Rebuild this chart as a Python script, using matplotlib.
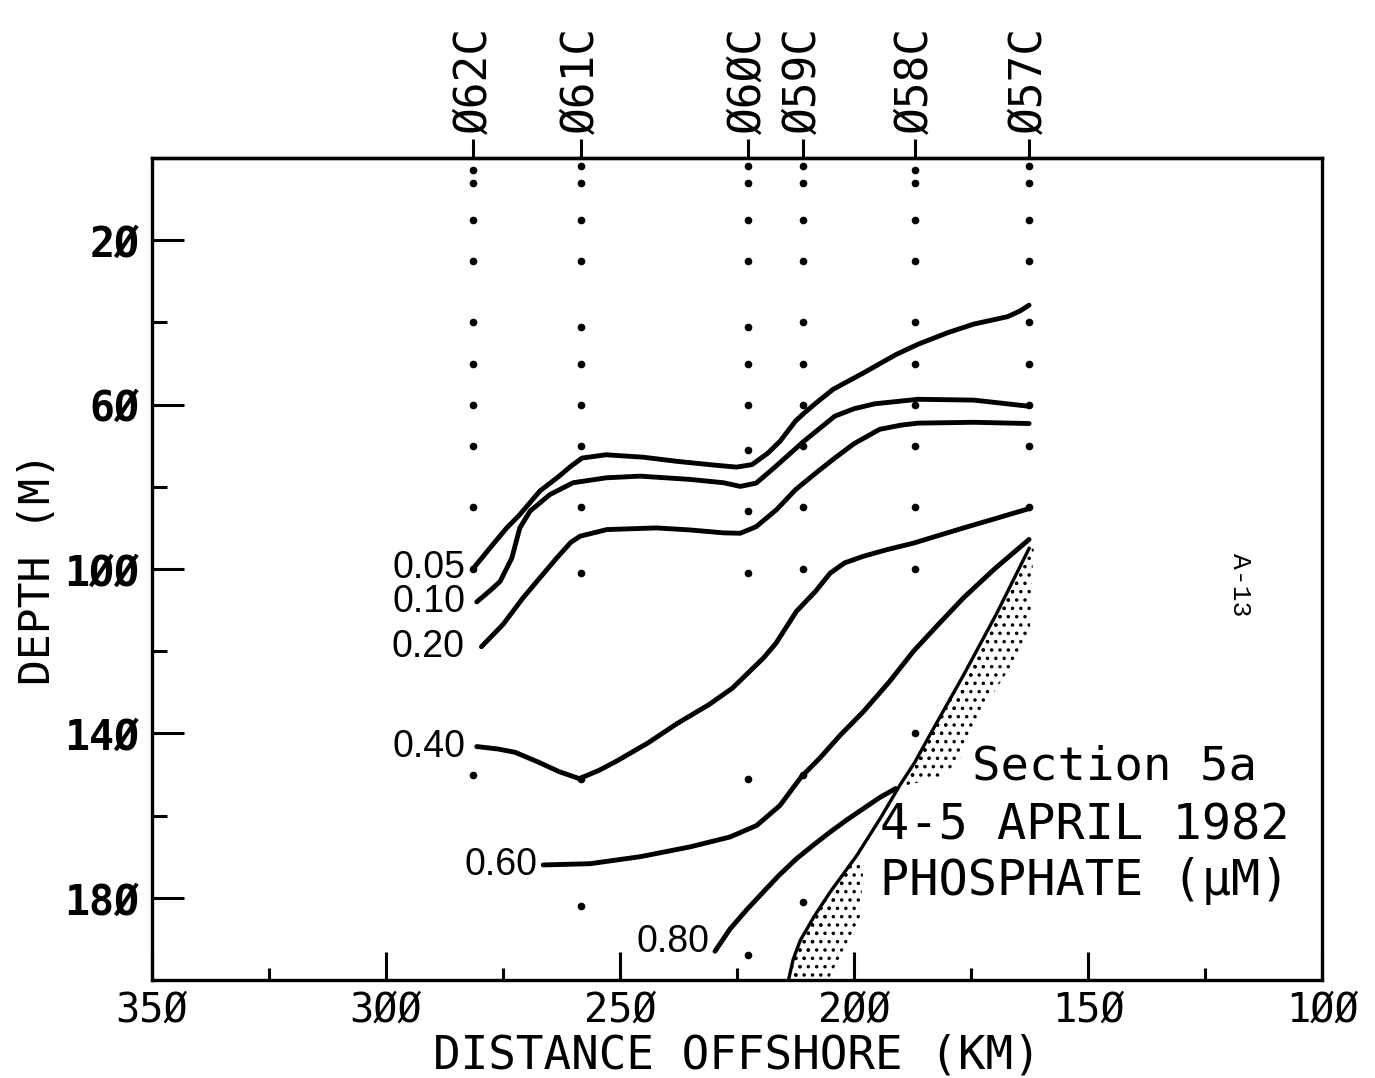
import numpy as np
import matplotlib.pyplot as plt

# stations along the section (distance offshore, km)
stations = ['062C', '061C', '060C', '059C', '058C', '057C']
station_km = [281.3, 258.3, 222.6, 211.0, 186.9, 162.6]

# bottle depths (m) at each station
sample_depths = [
    [3, 6, 15, 25, 40, 50, 60, 70, 85, 100, 150],
    [2, 6, 15, 25, 41, 50, 60, 70, 85, 101, 151, 182],
    [2, 6, 15, 25, 41, 50, 60, 71, 86, 101, 151, 194],
    [2, 6, 15, 25, 40, 50, 60, 70, 85, 100, 150, 181],
    [3, 6, 15, 25, 40, 50, 60, 70, 85, 100, 140],
    [2, 6, 15, 25, 40, 50, 60, 70, 85],
]

# phosphate isolines (uM)
c005_km = [281.3, 277.5, 274.2, 271.6, 267.1, 263.1, 260.5, 258.1, 253.0, 245.0, 237.8,
           230.0, 225.1, 221.8, 218.4, 215.8, 212.5, 210.8, 208.0, 204.5, 198.0, 191.0,
           186.3, 180.0, 174.4, 170.0, 167.2, 164.5, 162.6]
c005_depth = [99.8, 94.5, 90.0, 87.0, 81.0, 77.5, 75.0, 73.0, 72.2, 72.8, 73.8,
              74.7, 75.2, 74.6, 71.8, 68.9, 64.0, 62.2, 59.5, 56.3, 52.3, 47.8,
              45.3, 42.5, 40.4, 39.3, 38.6, 37.2, 35.8]

c010_km = [280.6, 277.5, 275.6, 273.1, 271.4, 269.2, 265.0, 260.0, 252.9, 245.7, 235.0,
           227.9, 224.3, 220.9, 216.7, 210.8, 204.1, 200.0, 195.6, 186.3, 174.4, 162.6]
c010_depth = [108.0, 105.0, 103.0, 97.3, 90.0, 85.9, 81.9, 79.0, 77.8, 77.4, 78.2,
              79.0, 79.9, 79.1, 75.0, 69.0, 62.8, 61.0, 59.8, 58.7, 58.9, 60.4]

c020_km = [279.6, 275.0, 270.7, 267.0, 263.5, 260.5, 258.5, 252.8, 242.2, 235.0, 227.9,
           224.3, 220.9, 216.5, 212.5, 208.0, 204.1, 200.0, 194.5, 190.0, 186.3, 174.4, 162.6]
c020_depth = [118.9, 113.5, 107.0, 102.0, 97.3, 93.5, 92.0, 90.4, 90.0, 90.5, 91.2,
              91.3, 89.7, 85.5, 80.7, 76.5, 73.0, 69.5, 66.0, 65.0, 64.5, 64.3, 64.6]

c040_km = [280.6, 276.0, 272.4, 267.4, 263.0, 258.7, 254.5, 250.5, 244.0, 237.8, 231.0,
           226.0, 219.4, 216.7, 212.3, 208.2, 205.1, 202.0, 198.0, 193.0, 187.3, 176.6,
           170.0, 162.6]
c040_depth = [143.2, 143.8, 144.6, 147.0, 149.3, 151.0, 149.0, 146.6, 142.3, 137.6, 133.0,
              129.0, 121.7, 118.1, 110.3, 105.4, 101.0, 98.5, 96.9, 95.3, 93.7, 90.0,
              87.8, 85.3]

c060_km = [266.4, 256.4, 245.7, 235.0, 226.5, 220.8, 215.8, 211.3, 207.3, 203.0, 198.0,
           192.5, 187.3, 182.0, 176.6, 170.0, 162.6]
c060_depth = [172.0, 171.7, 170.0, 167.6, 165.2, 162.4, 157.5, 150.6, 146.0, 140.5, 134.7,
              127.5, 120.0, 113.5, 107.0, 100.0, 92.8]

c080_km = [229.7, 226.5, 223.0, 219.4, 216.0, 212.3, 208.5, 205.1, 201.5, 198.0, 194.5, 191.1]
c080_depth = [193.0, 187.6, 183.0, 178.6, 174.5, 170.5, 167.0, 164.0, 161.0, 158.3, 155.6, 153.4]

contours = [('0.05', c005_km, c005_depth, (-6, 0)),
            ('0.10', c010_km, c010_depth, (-8, 0)),
            ('0.20', c020_km, c020_depth, (-12, 0)),
            ('0.40', c040_km, c040_depth, (-8, 0)),
            ('0.60', c060_km, c060_depth, (-4, 0)),
            ('0.80', c080_km, c080_depth, (-4, 7))]

# sea floor
bottom_km = [162.6, 169.6, 176.6, 183.8, 187.0, 190.2, 194.4, 199.4, 205.1, 208.5, 211.5, 213.0, 214.0]
bottom_depth = [95.0, 111.0, 125.8, 140.4, 147.0, 152.6, 160.7, 169.7, 178.6, 184.5, 190.4, 195.0, 200.0]

# outer edge of the stippled bottom band (two pieces)
stip1_depth = [95.0, 102.6, 114.5, 124.0, 136.0, 146.6, 150.7, 153.0]
stip1_km = [161.6, 162.0, 162.4, 166.7, 173.5, 177.4, 181.6, 190.3]
stip2_depth = [168.0, 174.5, 184.6, 193.0, 199.0, 200.0]
stip2_km = [199.0, 198.1, 198.7, 202.4, 205.1, 205.5]

MONO = 'DejaVu Sans Mono'
HELV = ['Liberation Sans', 'DejaVu Sans']


def slashed(v, pos=None):
    return f'{v:.0f}'.replace('0', 'Ø')


def stipple(depths, outer_km):
    d = np.array(depths)
    outer = np.array(outer_km)
    inner = np.interp(d, bottom_depth, bottom_km)
    # sparse dots over the whole band, denser ones hugging the bottom line
    plt.fill_betweenx(d, inner, outer, facecolor='none', edgecolor='black',
                      hatch='..', linewidth=0)
    near = inner - 0.3 * (inner - outer)
    plt.fill_betweenx(d, inner, near, facecolor='none', edgecolor='black',
                      hatch='..', linewidth=0)


plt.rcParams['hatch.linewidth'] = 1.3

fig = plt.figure(figsize=(13.75, 10.78), dpi=100)
ax = fig.add_axes([0.1105, 0.0909, 0.851, 0.7625])

# sample positions
for km, depths in zip(station_km, sample_depths):
    plt.plot([km] * len(depths), depths, 'o', color='black', markersize=4.5, linestyle='none')

# sea floor with stippling
stipple(stip1_depth, stip1_km)
stipple(stip2_depth, stip2_km)
plt.plot(bottom_km, bottom_depth, color='black', lw=2.4)

# isolines + labels
for label, km, depth, off in contours:
    plt.plot(km, depth, color='black', lw=3.5, solid_capstyle='round', solid_joinstyle='round')
    plt.annotate(label, xy=(km[0], depth[0]), xytext=off, textcoords='offset points',
                 ha='right', va='center', fontsize=27, family=HELV)

plt.xlim(350, 100)
plt.ylim(200, 0)

ax.set_xticks([350, 300, 250, 200, 150, 100])
ax.set_xticks([325, 275, 225, 175, 125], minor=True)
ax.set_yticks([20, 60, 100, 140, 180])
ax.set_yticks([40, 80, 120, 160], minor=True)
ax.xaxis.set_major_formatter(plt.FuncFormatter(slashed))
ax.yaxis.set_major_formatter(plt.FuncFormatter(slashed))
ax.tick_params(axis='x', which='major', direction='in', length=20, width=2.2, pad=8,
               labelsize=29)
ax.tick_params(axis='x', which='minor', direction='in', length=9, width=2.2)
ax.tick_params(axis='y', which='major', direction='in', length=23, width=2.2, pad=9,
               labelsize=30)
ax.tick_params(axis='y', which='minor', direction='in', length=11, width=2.2)
for t in ax.get_xticklabels():
    t.set_family(MONO)
for t in ax.get_yticklabels():
    t.set_family(MONO)
    t.set_fontweight('bold')
for s in ax.spines.values():
    s.set_linewidth(2.4)

top = ax.secondary_xaxis('top')
top.set_xticks(station_km, labels=[s.replace('0', 'Ø') for s in stations])
top.tick_params(direction='out', length=14, width=2.2, pad=3, labelsize=32, rotation=90)
for t in top.get_xticklabels():
    t.set_family(MONO)
top.spines['top'].set_linewidth(2.4)

ax.set_xlabel('DISTANCE OFFSHORE (KM)', fontsize=33, family=MONO, labelpad=2)
ax.set_ylabel('DEPTH (M)', fontsize=31, family=MONO, labelpad=4)

# title block
fig.text(972 / 1375, 1 - 780 / 1078, 'Section 5a', fontsize=34, family=MONO, va='baseline')
fig.text(880 / 1375, 1 - 840 / 1078, '4-5 APRIL 1982', fontsize=35, family=MONO, va='baseline')
fig.text(880 / 1375, 1 - 895 / 1078, 'PHOSPHATE (μM)', fontsize=35, family=MONO, va='baseline')
fig.text(1240 / 1375, 1 - 585 / 1078, 'A-13', fontsize=19, family=['Liberation Mono', 'DejaVu Sans Mono'],
         rotation=-90, ha='center', va='center')

fig.savefig('out.png', dpi=100)
